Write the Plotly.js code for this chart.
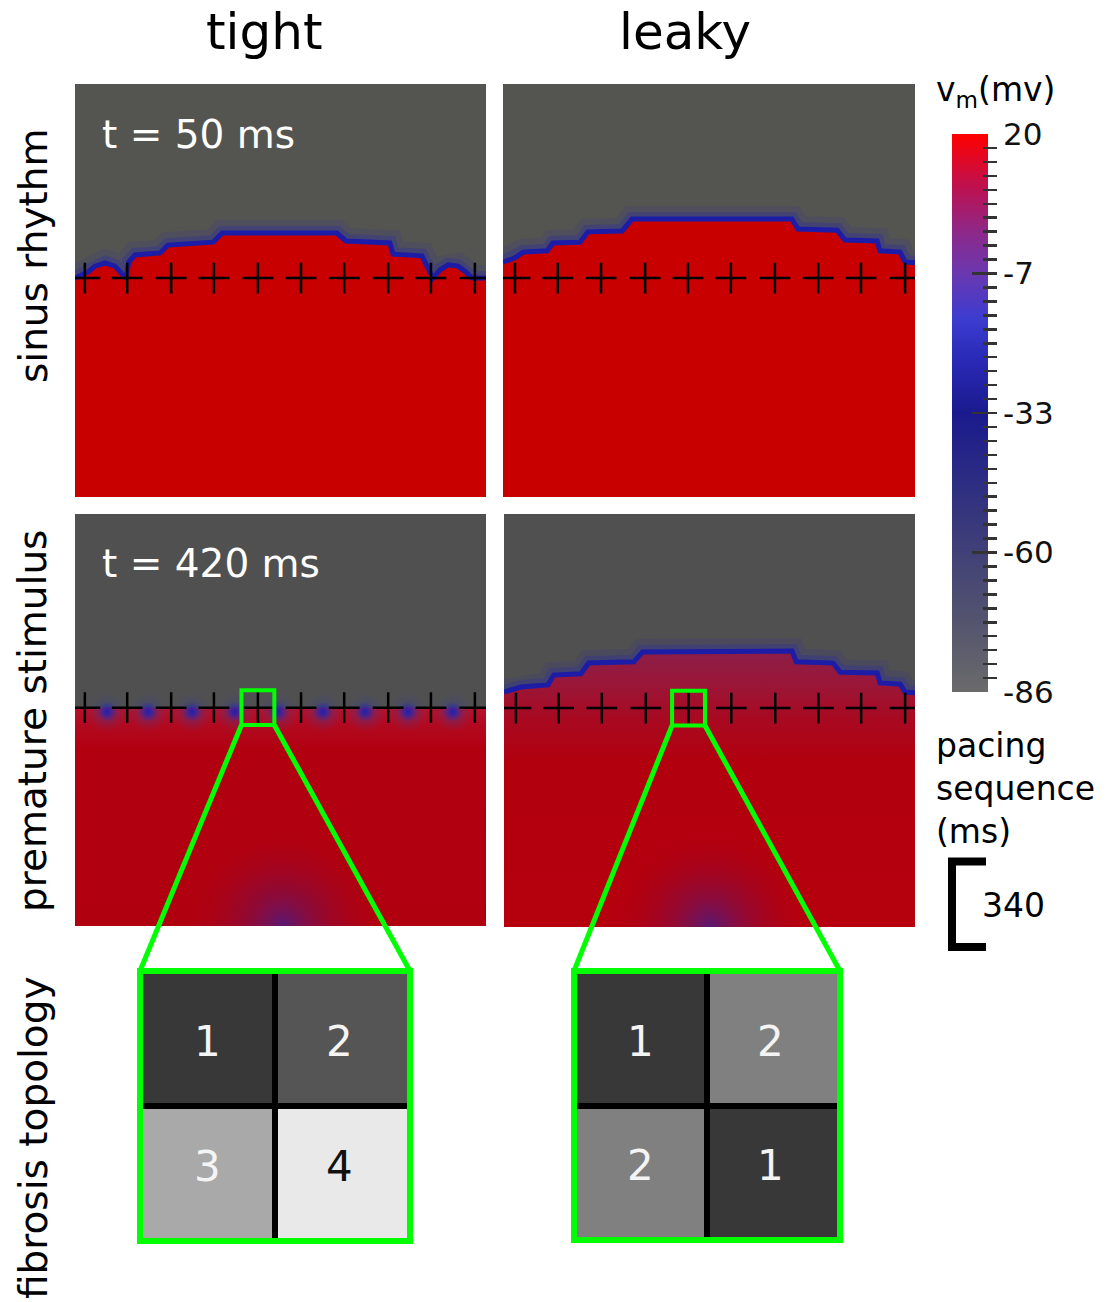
<!DOCTYPE html>
<html>
<head>
<meta charset="utf-8">
<script src="https://cdn.plot.ly/plotly-3.0.1.min.js"></script>
<style>html,body{margin:0;padding:0;background:#fff;}#chart{width:1111px;height:1302px;}</style>
</head>
<body>
<div id="chart"></div>
<script>
// ---------------- DATA ----------------
const columnTitles = ['tight', 'leaky'];
const rowTitles = ['sinus rhythm', 'premature stimulus', 'fibrosis topology'];
const timeLabels = ['t = 50 ms', 't = 420 ms'];

// pacing sites (panel units 0..100)
const pacingTightX = [2.4, 12.7, 23.4, 33.8, 44.5, 55.0, 65.5, 76.2, 86.6, 97.3];
const pacingLeakyX = [2.9, 13.3, 23.8, 34.5, 44.9, 55.3, 66.0, 76.5, 86.9, 97.6];
const pacingLineY = 53;

// activation wavefronts (panel units 0..100, y from bottom)
const frontTightSinusX = [0, 3.2, 4.9, 7.3, 9.7, 11.4, 12.4, 13.1, 14.6, 20.7, 22.6, 33.6, 35.8, 63.7, 65.9, 76.6, 77.4, 84.4, 85.6, 87.1, 88.8, 90.8, 93.2, 95.1, 96.6, 100];
const frontTightSinusY = [53.0, 54.5, 55.9, 56.7, 55.9, 54.0, 53.0, 56.9, 58.6, 59.1, 61.0, 61.7, 63.9, 63.9, 62.0, 61.5, 58.8, 58.4, 55.9, 53.0, 55.0, 56.2, 55.9, 54.5, 53.0, 53.0];
const frontLeakySinusX = [0, 2.9, 4.9, 10.7, 12.1, 18.7, 20.6, 28.9, 31.3, 70.1, 71.6, 81.1, 83.0, 90.8, 91.5, 96.4, 97.6, 100];
const frontLeakySinusY = [56.9, 57.9, 59.3, 59.6, 61.5, 61.7, 64.2, 64.4, 67.3, 67.3, 64.9, 64.6, 62.2, 62.0, 59.6, 59.3, 56.9, 56.7];
const frontTightPrematureX = [0, 100];
const frontTightPrematureY = [53, 53];
const frontLeakyPrematureX = [0, 4.1, 10.7, 12.1, 18.7, 20.6, 31.6, 33.7, 70.1, 71.1, 80.1, 81.8, 90.8, 91.5, 96.4, 97.6, 100];
const frontLeakyPrematureY = [56.9, 58.1, 58.6, 61.0, 61.3, 63.9, 64.2, 66.6, 66.8, 64.2, 63.9, 61.7, 61.5, 59.1, 58.8, 56.9, 56.7];

// local depolarisation spots
const tightBlobX = [7.8, 17.8, 28.5, 38.9, 49.4, 60.3, 70.6, 81.0, 91.9];
const tightBlobY = [52.0, 52.0, 52.0, 52.0, 52.0, 52.0, 52.0, 52.0, 52.0];
const stimSiteTightX = [50.6];
const stimSiteLeakyX = [50.1];
const stimSiteY = [0];

// fibrosis topology grids (row-major, top row first)
const gridLeftZ = [[1, 2], [3, 4]];
const gridRightZ = [[1, 2], [2, 1]];

// colour bar
const vmRange = [-86, 20];
const vmTickVals = [20, -6.5, -33, -59.5, -86];
const vmTickText = ['20', '-7', '-33', '-60', '-86'];
const pacingScaleLabel = '340';

// ---------------- LAYOUT HELPERS ----------------
const W = 1111, H = 1302, FONT = 'DejaVu Sans';
const px = p => p / W;
const py = p => 1 - p / H;
function dom(x0, x1, y0, y1) { return { x: [x0 / W, x1 / W], y: [1 - y1 / H, 1 - y0 / H] }; }
const box = {
  p1: [75, 486, 84, 497], p2: [503, 915, 84, 497],
  p3: [75, 486, 514, 926], p4: [504, 915, 514, 927],
  g5: [140, 410, 971, 1241], g6: [574, 840, 971, 1240],
  cb: [952, 988, 134, 692]
};
const D = {}; for (const k in box) D[k] = dom.apply(null, box[k]);

const vmColorscale = [
  [0, '#6b6b6b'], [0.12, '#55556e'], [0.28, '#3c3c7a'], [0.5, '#1a1a8e'],
  [0.6, '#2a2ab8'], [0.67, '#3c3cd0'], [0.75, '#6a38b0'], [0.82, '#8a2a8c'],
  [0.91, '#c0104c'], [1, '#ff0000']
];

const traces = [];
function front(xs, ys, ax, ay, fill, blue) {
  if (blue) {
    traces.push({ type: 'scatter', mode: 'lines', x: xs, y: ys, xaxis: ax, yaxis: ay,
      line: { color: 'rgba(40,40,180,0.13)', width: 26 }, hoverinfo: 'skip', showlegend: false });
    traces.push({ type: 'scatter', mode: 'lines', x: xs, y: ys, xaxis: ax, yaxis: ay,
      line: { color: 'rgba(35,35,185,0.25)', width: 14 }, hoverinfo: 'skip', showlegend: false });
  }
  const t = { type: 'scatter', mode: 'lines', x: xs, y: ys, xaxis: ax, yaxis: ay, fill: 'tozeroy',
    line: { color: blue ? '#1c1ca6' : 'rgba(0,0,0,0)', width: blue ? 5 : 0 }, hoverinfo: 'skip', showlegend: false };
  if (typeof fill === 'string') t.fillcolor = fill; else t.fillgradient = fill;
  traces.push(t);
}
function crosses(xs, ax, ay) {
  traces.push({ type: 'scatter', mode: 'markers', x: xs, y: xs.map(() => pacingLineY), xaxis: ax, yaxis: ay,
    marker: { symbol: 'cross-thin', size: 22, line: { width: 2.5, color: '#000' } },
    hoverinfo: 'skip', showlegend: false });
}
function blobs(xs, ys, ax, ay, size, center, edge, symbol) {
  traces.push({ type: 'scatter', mode: 'markers', x: xs, y: ys, xaxis: ax, yaxis: ay, cliponaxis: true,
    marker: { symbol: symbol || 'circle', size: size, color: edge, line: { width: 0 }, gradient: { type: 'radial', color: center } },
    hoverinfo: 'skip', showlegend: false });
}

// panel 1: tight / sinus
front(frontTightSinusX, frontTightSinusY, 'x', 'y', '#c80000', true);
crosses(pacingTightX, 'x', 'y');
// panel 2: leaky / sinus
front(frontLeakySinusX, frontLeakySinusY, 'x2', 'y2', '#c80000', true);
crosses(pacingLeakyX, 'x2', 'y2');
// panel 3: tight / premature
front(frontTightPrematureX, frontTightPrematureY, 'x3', 'y3',
  { type: 'vertical', colorscale: [[0, '#b0000f'], [0.8, '#b1000f'], [0.93, '#b20a22'], [1, '#b4122c']] }, false);
blobs(stimSiteTightX, stimSiteY, 'x3', 'y3', 200, 'rgba(88,24,112,0.9)', 'rgba(178,0,15,0)');
blobs(stimSiteTightX, stimSiteY, 'x3', 'y3', 70, 'rgba(80,25,120,0.6)', 'rgba(150,10,60,0)');
blobs(tightBlobX, tightBlobY, 'x3', 'y3', 40, 'rgba(50,50,170,0.55)', 'rgba(70,70,130,0)');
blobs(tightBlobX, tightBlobY, 'x3', 'y3', 20, 'rgba(30,30,175,1)', 'rgba(45,45,170,0)');
crosses(pacingTightX, 'x3', 'y3');
// panel 4: leaky / premature
front(frontLeakyPrematureX, frontLeakyPrematureY, 'x4', 'y4',
  { type: 'vertical', colorscale: [[0, '#b6000e'], [0.6, '#b2000f'], [0.76, '#a80a22'], [0.88, '#9a1638'], [1, '#8c1e48']] }, true);
blobs(stimSiteLeakyX, stimSiteY, 'x4', 'y4', 200, 'rgba(88,24,112,0.9)', 'rgba(178,0,15,0)');
blobs(stimSiteLeakyX, stimSiteY, 'x4', 'y4', 70, 'rgba(80,25,120,0.6)', 'rgba(150,10,60,0)');
crosses(pacingLeakyX, 'x4', 'y4');

// fibrosis grids
traces.push({ type: 'heatmap', z: gridLeftZ, x: [0, 1], y: [0, 1], xaxis: 'x5', yaxis: 'y5',
  zmin: 1, zmax: 4, showscale: false, xgap: 6, ygap: 6, hoverinfo: 'skip',
  colorscale: [[0, '#383838'], [1 / 3, '#555555'], [2 / 3, '#a9a9a9'], [1, '#e9e9e9']] });
traces.push({ type: 'heatmap', z: gridRightZ, x: [0, 1], y: [0, 1], xaxis: 'x6', yaxis: 'y6',
  zmin: 1, zmax: 2, showscale: false, xgap: 6, ygap: 6, hoverinfo: 'skip',
  colorscale: [[0, '#383838'], [1, '#808080']] });

// colour bar
traces.push({ type: 'heatmap', z: [[vmRange[0]], [vmRange[1]]], x: [0], y: vmRange, xaxis: 'x7', yaxis: 'y7',
  zmin: vmRange[0], zmax: vmRange[1], zsmooth: 'best', colorscale: vmColorscale, showscale: false, hoverinfo: 'skip' });

// ---------------- AXES ----------------
const hidden = { showgrid: false, zeroline: false, showticklabels: false, ticks: '', showline: false, fixedrange: true };
const layout = {
  width: W, height: H, margin: { l: 0, r: 0, t: 0, b: 0 },
  paper_bgcolor: '#ffffff', plot_bgcolor: '#000000', showlegend: false,
  font: { family: FONT, color: '#000' },
  shapes: [], annotations: []
};
['p1', 'p2', 'p3', 'p4'].forEach((k, i) => {
  const n = i === 0 ? '' : String(i + 1);
  layout['xaxis' + n] = Object.assign({}, hidden, { domain: D[k].x, range: [0, 100], anchor: 'y' + n });
  layout['yaxis' + n] = Object.assign({}, hidden, { domain: D[k].y, range: [0, 100], anchor: 'x' + n });
  layout.shapes.push({ type: 'rect', xref: 'x' + n + ' domain', yref: 'y' + n + ' domain', x0: 0, x1: 1, y0: 0, y1: 1,
    layer: 'below', fillcolor: i < 2 ? '#545451' : '#505050', line: { width: 0 } });
});
[['g5', '5'], ['g6', '6']].forEach(([k, n]) => {
  layout['xaxis' + n] = Object.assign({}, hidden, { domain: D[k].x, range: [-0.5, 1.5], anchor: 'y' + n });
  layout['yaxis' + n] = Object.assign({}, hidden, { domain: D[k].y, range: [1.5, -0.5], anchor: 'x' + n });
  layout.shapes.push({ type: 'rect', xref: 'x' + n + ' domain', yref: 'y' + n + ' domain', x0: 0, x1: 1, y0: 0, y1: 1,
    layer: 'above', fillcolor: 'rgba(0,0,0,0)', line: { width: 6, color: '#00ff00' } });
});
layout.xaxis7 = Object.assign({}, hidden, { domain: D.cb.x, range: [-0.5, 0.5], anchor: 'y7' });
layout.yaxis7 = {
  domain: D.cb.y, range: vmRange, anchor: 'free', position: px(997), side: 'right', fixedrange: true,
  showgrid: false, zeroline: false, showline: false,
  tickmode: 'array', tickvals: vmTickVals, ticktext: vmTickText,
  ticks: 'inside', ticklen: 25, tickwidth: 2.5, tickcolor: '#333',
  ticklabelstandoff: 5,
  tickfont: { family: FONT, size: 31, color: '#111' },
  minor: { ticks: 'inside', ticklen: 14, tickwidth: 2.5, tickcolor: '#333', tick0: -86, dtick: 2.65, showgrid: false }
};

// grid numbers (from the grid arrays)
function gridText(z, xr, yr, dark) {
  const rowShift = [-3, 7];
  z.forEach((row, r) => row.forEach((v, c) => {
    layout.annotations.push({ text: String(v), x: c, y: r, xref: xr, yref: yr, showarrow: false,
      xanchor: 'center', yanchor: 'middle', yshift: rowShift[r], xshift: c === 1 ? -3 : 0,
      font: { family: FONT, size: 42, color: dark(v) ? '#111111' : '#f4f4f4' } });
  }));
}
gridText(gridLeftZ, 'x5', 'y5', v => v === 4);
gridText(gridRightZ, 'x6', 'y6', v => false);

// zoom boxes and connector lines
function panelToPaper(k, x, y) {
  const d = D[k];
  return [d.x[0] + x / 100 * (d.x[1] - d.x[0]), d.y[0] + y / 100 * (d.y[1] - d.y[0])];
}
[['p3', pacingTightX, 'g5', 'x3', 'y3'], ['p4', pacingLeakyX, 'g6', 'x4', 'y4']].forEach(([k, xs, g, ax, ay]) => {
  const cx = xs[4], hw = 4.0, hh = 4.2;
  layout.shapes.push({ type: 'rect', xref: ax, yref: ay, x0: cx - hw, x1: cx + hw, y0: pacingLineY - hh, y1: pacingLineY + hh,
    line: { color: '#00ff00', width: 4 }, fillcolor: 'rgba(0,0,0,0)', layer: 'above' });
  const bl = panelToPaper(k, cx - hw, pacingLineY - hh), br = panelToPaper(k, cx + hw, pacingLineY - hh);
  const gd = D[g];
  layout.shapes.push({ type: 'line', xref: 'paper', yref: 'paper', x0: bl[0], y0: bl[1], x1: gd.x[0], y1: gd.y[1], line: { color: '#00ff00', width: 5 } });
  layout.shapes.push({ type: 'line', xref: 'paper', yref: 'paper', x0: br[0], y0: br[1], x1: gd.x[1], y1: gd.y[1], line: { color: '#00ff00', width: 5 } });
});

// pacing sequence scale bracket
layout.shapes.push({ type: 'path', xref: 'paper', yref: 'paper',
  path: `M ${px(986)},${py(861.5)} L ${px(952)},${py(861.5)} L ${px(952)},${py(947)} L ${px(986)},${py(947)}`,
  line: { color: '#000', width: 8 }, fillcolor: 'rgba(0,0,0,0)' });

// ---------------- TEXT ----------------
function ann(text, x, y, size, o) {
  layout.annotations.push(Object.assign({ text: text, x: px(x), y: py(y), xref: 'paper', yref: 'paper', showarrow: false,
    xanchor: 'center', yanchor: 'middle', font: { family: FONT, size: size, color: '#000' } }, o || {}));
}
ann(columnTitles[0], 264, 32, 50);
ann(columnTitles[1], 685, 32, 50);
ann(rowTitles[0], 33, 256, 39, { textangle: -90 });
ann(rowTitles[1], 33, 721, 39, { textangle: -90 });
ann(rowTitles[2], 33, 1138, 39, { textangle: -90 });
ann(timeLabels[0], 100, 135, 39, { xanchor: 'left', font: { family: FONT, size: 39, color: '#ffffff' } });
ann(timeLabels[1], 100, 563, 39, { xanchor: 'left', font: { family: FONT, size: 39, color: '#ffffff' } });
ann('v<sub>m</sub>(mv)', 934, 92, 33, { xanchor: 'left' });
ann('pacing<br>sequence<br>(ms)', 934, 788, 33, { xanchor: 'left', align: 'left' });
ann(pacingScaleLabel, 980, 905, 33, { xanchor: 'left' });

Plotly.newPlot('chart', traces, layout, { staticPlot: true, displayModeBar: false });
</script>
</body>
</html>
